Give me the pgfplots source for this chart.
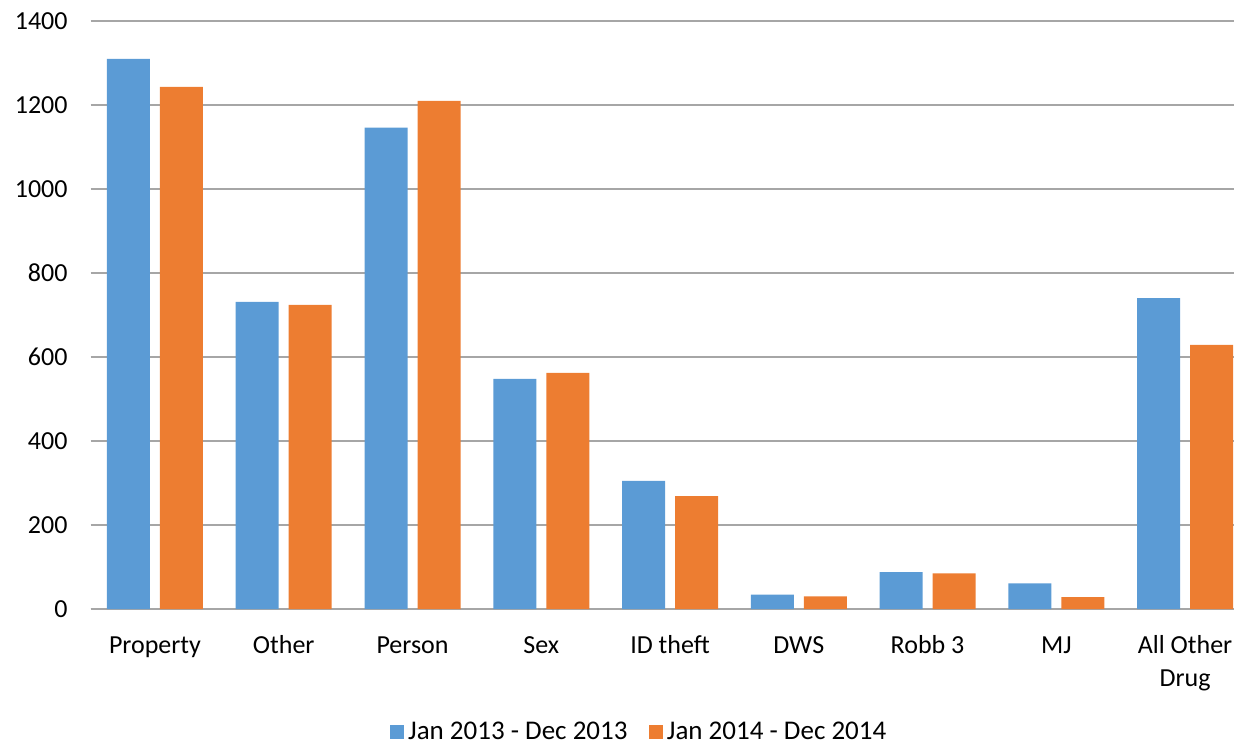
\documentclass[border=0pt]{standalone}
\usepackage{pgfplots}
\pgfplotsset{compat=1.18}
\usepackage{fontspec}
\setmainfont{Carlito}
\definecolor{cblue}{HTML}{5B9BD5}
\definecolor{corange}{HTML}{ED7D31}
\definecolor{cgrid}{HTML}{A6A6A6}
\begin{document}
\begin{tikzpicture}
\begin{axis}[
  at={(0,0)}, anchor=south west,
  scale only axis,
  width=571.7pt, height=294pt,
  xmin=-0.5, xmax=8.38,
  ymin=0, ymax=1400,
  ytick={0,200,...,1400},
  xtick={0,...,8},
  xticklabels={\strut Property,\strut Other,\strut Person,\strut Sex,\strut ID theft,\strut DWS,\strut Robb 3,\strut MJ,{\strut All Other\\\strut Drug}},
  xticklabel style={align=center, font=\fontsize{13}{16.5}\selectfont, yshift=-7pt},
  yticklabel style={font=\fontsize{13}{15}\selectfont, xshift=-8pt},
  /pgf/number format/assume math mode=true,
  /pgf/number format/1000 sep={},
  major tick length=0pt,
  ymajorgrids, grid style={cgrid, line width=0.7pt},
  axis x line*=bottom, axis y line*=left,
  x axis line style={cgrid, line width=0.7pt, -},
  y axis line style={draw=none},
  ybar=5pt, bar width=21.5pt,
  legend columns=2,
  legend style={at={(0.4805,-0.209)}, anchor=center, draw=none, font=\fontsize{13.5}{15}\selectfont,
    /tikz/every even column/.append style={column sep=8.5pt}},
  legend image code/.code={\fill[#1] (0pt,-3.6pt) rectangle (7.2pt,3.6pt);},
  clip=false,
]
\addplot[fill=cblue, draw=none] coordinates {(0,1310) (1,731) (2,1146) (3,548) (4,305) (5,34) (6,88) (7,61) (8,740)};
\addplot[fill=corange, draw=none] coordinates {(0,1243) (1,724) (2,1210) (3,562) (4,269) (5,30) (6,85) (7,28) (8,629)};
\legend{Jan 2013 - Dec 2013, Jan 2014 - Dec 2014}
\end{axis}
\pgfresetboundingbox
\path (-45.3pt,-67pt) rectangle (571.7pt,304.5pt);
\end{tikzpicture}
\end{document}
